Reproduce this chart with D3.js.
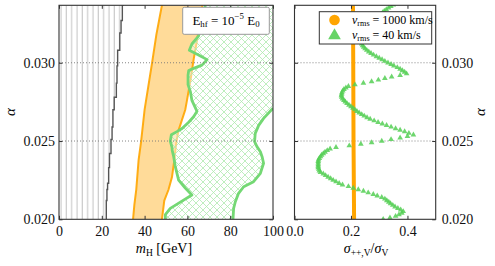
<!DOCTYPE html>
<html lang="en">
<head>
<meta charset="utf-8">
<title>alpha scan</title>
<script src="https://cdn.jsdelivr.net/npm/d3@7"></script>
<style>
  body { margin: 0; background: #fff; }
  svg { font-family: "Liberation Serif", "DejaVu Serif", serif; }
</style>
</head>
<body>
<script>
// ---- data ----
var mTicks = [0, 20, 40, 60, 80, 100];
var sigmaTicks = [0.0, 0.2, 0.4];
var alphaTicks = [0.020, 0.025, 0.030];
var alphaGrid = [0.025, 0.030];

// grey excluded region edge [mH, alpha]
var greyEdge = [[22.1,0.0200],[22.4,0.0212],[22.7,0.0219],[23.2,0.0223],[23.6,0.0233],[24.3,0.0242],
    [24.8,0.0251],[25.2,0.0259],[25.8,0.0270],[26.8,0.0278],[27.1,0.0287],[27.4,0.0298],
    [28.4,0.0308],[29.0,0.0319],[29.6,0.0327],[30.2,0.03367]];

// orange band (v_rms = 1000 km/s)
var orangeLow = [[34.6,0.0200],[35.2,0.0209],[36.1,0.0219],[37.2,0.0238],[38.3,0.0249],[40.0,0.0270],
    [43.5,0.0300],[45.5,0.0318],[48.1,0.03367]];
var orangeHigh = [[48.1,0.0200],[49.2,0.0212],[51.2,0.0219],[52.8,0.0227],[53.9,0.0238],[54.8,0.0249],
    [55.9,0.0257],[59.0,0.0270],[59.8,0.0276],[61.7,0.0291],[62.9,0.0302],[64.2,0.0312],
    [66.0,0.0327],[67.0,0.03367]];

// green region (v_rms = 40 km/s): left edge bottom->top, right edge top->bottom
var greenLow = [[49.7,0.0200],[49.7,0.0203],[52.0,0.0207],[56.7,0.0211],[62.1,0.02155],[59.0,0.0220],
    [55.9,0.0225],[54.3,0.0234],[53.6,0.0240],[52.9,0.0244],[52.8,0.0246],[52.0,0.0250],
    [52.5,0.0254],[55.1,0.0256],[57.5,0.0258],[60.6,0.0262],[62.9,0.02655],[64.5,0.0269],
    [62.1,0.0276],[61.4,0.02815],[60.3,0.0286],[60.3,0.0292],[60.6,0.0295],[62.9,0.02964],
    [66.8,0.02985],[69.2,0.0302],[65.2,0.0305],[60.9,0.0308],[62.1,0.0312],[65.2,0.0317],
    [68.4,0.03367]];
var greenHigh = [[100,0.0271],[95.6,0.02645],[93.3,0.0260],[91.7,0.02549],[91.4,0.02496],[92.5,0.02464],
    [94.1,0.02432],[94.9,0.0240],[95.6,0.02358],[94.1,0.02294],[90.9,0.0224],[86.3,0.02208],
    [83.9,0.02166],[82.4,0.02112],[81.6,0.0207],[81.3,0.0200]];

// right panel: [alpha, sigma_{++,V}/sigma_V]
var fastDots = [[0.0200,0.211],[0.0250,0.209],[0.0300,0.208],[0.03367,0.207]];
var slowDots = [
    [0.0200,0.314],[0.0201,0.338],[0.0202,0.358],[0.0203,0.370],[0.0204,0.380],[0.0205,0.385],
    [0.0206,0.376],[0.0207,0.366],[0.0208,0.356],[0.0209,0.348],[0.0210,0.340],[0.0211,0.334],
    [0.0212,0.327],[0.0213,0.320],[0.0214,0.309],[0.0215,0.293],[0.0216,0.279],[0.0217,0.261],
    [0.0218,0.244],[0.0219,0.226],[0.0220,0.208],[0.0221,0.191],[0.0222,0.170],[0.0223,0.158],
    [0.0224,0.147],[0.0225,0.137],[0.0226,0.128],[0.0227,0.119],[0.0228,0.110],[0.0229,0.102],
    [0.0230,0.092],[0.0231,0.088],[0.0232,0.086],[0.0233,0.084],[0.0234,0.084],[0.0235,0.084],
    [0.0236,0.084],[0.0237,0.084],[0.0238,0.085],[0.0239,0.088],[0.0240,0.092],[0.0241,0.096],
    [0.0242,0.102],[0.0243,0.108],[0.0244,0.116],[0.0245,0.126],[0.0246,0.147],[0.0247,0.194],
    [0.0248,0.235],[0.0249,0.273],[0.0250,0.309],[0.0251,0.342],[0.0252,0.374],[0.0253,0.400],
    [0.0254,0.421],[0.0255,0.405],[0.0256,0.390],[0.0257,0.374],[0.0258,0.358],[0.0259,0.342],
    [0.0260,0.326],[0.0261,0.311],[0.0262,0.296],[0.0263,0.282],[0.0264,0.268],[0.0265,0.257],
    [0.0266,0.247],[0.0267,0.238],[0.0268,0.229],[0.0269,0.221],[0.0270,0.214],[0.0271,0.207],
    [0.0272,0.200],[0.0273,0.193],[0.0274,0.186],[0.0275,0.180],[0.0276,0.175],[0.0277,0.170],
    [0.0278,0.167],[0.0279,0.166],[0.0280,0.167],[0.0281,0.168],[0.0282,0.171],[0.0283,0.175],
    [0.0284,0.182],[0.0285,0.191],[0.0286,0.214],[0.0287,0.244],[0.0288,0.273],[0.0289,0.297],
    [0.0290,0.320],[0.0291,0.344],[0.0292,0.374],[0.0293,0.397],[0.0294,0.390],[0.0295,0.382],
    [0.0296,0.374],[0.0297,0.364],[0.0298,0.352],[0.0299,0.342],[0.0300,0.331],[0.0301,0.320],
    [0.0302,0.310],[0.0303,0.300],[0.0304,0.290],[0.0305,0.280],[0.0306,0.271],[0.0307,0.263],
    [0.0308,0.256],[0.0309,0.250],[0.0310,0.245],[0.0311,0.241],[0.0312,0.238],[0.0313,0.237],
    [0.0314,0.238],[0.0315,0.239],[0.0316,0.241],[0.0317,0.244],[0.0318,0.248],[0.0319,0.252],
    [0.0320,0.256],[0.0321,0.260],[0.0322,0.265],[0.0323,0.269],[0.0324,0.274],[0.0325,0.278],
    [0.0326,0.283],[0.0327,0.287],[0.0328,0.292],[0.0329,0.296],[0.0330,0.301],[0.0331,0.307],
    [0.0332,0.312],[0.0333,0.318],[0.0334,0.325],[0.0335,0.333],[0.0336,0.341],[0.0337,0.350]];

// ---- layout ----
var W = 495, H = 266, FS = 14;
var SERIF = '"Liberation Serif", "DejaVu Serif", serif';
var ORANGE = '#ffa500', GREEN = '#74d874';

var svg = d3.select('body').append('svg').attr('width', W).attr('height', H)
    .attr('font-family', SERIF);
var defs = svg.append('defs');

var y = d3.scaleLinear().domain([0.020, 0.03367]).range([219.3, 5.3]);
var xL = d3.scaleLinear().domain([0, 100]).range([59, 273]);
var xR = d3.scaleLinear().domain([0, 0.5]).range([294.5, 435.7]);

defs.append('clipPath').attr('id', 'clipL').append('rect')
    .attr('x', 59).attr('y', 5.3).attr('width', 214).attr('height', 214);
defs.append('clipPath').attr('id', 'clipR').append('rect')
    .attr('x', 294.5).attr('y', 5.3).attr('width', 141.2).attr('height', 214);

var vhatch = defs.append('pattern').attr('id', 'vhatch').attr('patternUnits', 'userSpaceOnUse')
    .attr('x', 59).attr('width', 5.33).attr('height', 10);
vhatch.append('line').attr('x1', 2).attr('x2', 2).attr('y1', 0).attr('y2', 10)
    .attr('stroke', '#c2c2c2').attr('stroke-width', 1);

var xhatch = defs.append('pattern').attr('id', 'xhatch').attr('patternUnits', 'userSpaceOnUse')
    .attr('width', 7).attr('height', 7);
xhatch.append('path').attr('d', 'M0,0L7,7M0,7L7,0M-1,1L1,-1M6,8L8,6M-1,6L1,8M6,-1L8,1')
    .attr('stroke', '#aeeaae').attr('stroke-width', 0.8).attr('fill', 'none');

function rich(text, parts, size) {
    var shift = 0;
    parts.forEach(function (p) {
        var target = p.sub ? 0.22 * size : (p.sup ? -0.4 * size : 0);
        var ts = text.append('tspan').text(p.t).attr('dy', target - shift);
        shift = target;
        if (p.sub || p.sup) ts.attr('font-size', 0.68 * size);
        if (p.it) ts.attr('font-style', 'italic');
    });
}

// ================= left panel =================
var lineL = d3.line().x(function (d) { return xL(d[0]); }).y(function (d) { return y(d[1]); });
var stepL = d3.line().curve(d3.curveStepBefore)
    .x(function (d) { return xL(d[0]); }).y(function (d) { return y(d[1]); });
var left = svg.append('g').attr('clip-path', 'url(#clipL)');

// grey region
var greyPoly = [[0, 0.020]].concat(greyEdge, [[0, 0.03367]]);
left.append('path').attr('d', stepL(greyPoly)).attr('fill', 'url(#vhatch)').attr('stroke', 'none');
left.append('path').attr('d', stepL(greyEdge))
    .attr('fill', 'none').attr('stroke', '#555').attr('stroke-width', 1.4);

// orange band
left.append('path').attr('d', lineL(orangeLow.concat(orangeHigh.slice().reverse())))
    .attr('fill', ORANGE).attr('fill-opacity', 0.4).attr('stroke', 'none');
[orangeLow, orangeHigh].forEach(function (e) {
    left.append('path').attr('d', lineL(e)).attr('fill', 'none')
        .attr('stroke', ORANGE).attr('stroke-width', 2).attr('stroke-opacity', 0.9);
});

// green region
var greenPoly = greenLow.concat([[100, 0.03367]], greenHigh);
left.append('path').attr('d', lineL(greenPoly)).attr('fill', '#fff').attr('fill-opacity', 0.45);
left.append('path').attr('d', lineL(greenPoly)).attr('fill', 'url(#xhatch)');
[greenLow, greenHigh].forEach(function (e) {
    left.append('path').attr('d', lineL(e)).attr('fill', 'none')
        .attr('stroke', GREEN).attr('stroke-width', 2.8).attr('stroke-linejoin', 'round');
});

// grid
left.selectAll('.grid').data(alphaGrid).enter().append('line')
    .attr('x1', 59).attr('x2', 273).attr('y1', y).attr('y2', y)
    .attr('stroke', '#777').attr('stroke-width', 0.9).attr('stroke-dasharray', '1,2');

// ================= right panel =================
var right = svg.append('g').attr('clip-path', 'url(#clipR)');
right.selectAll('.grid').data(alphaGrid).enter().append('line')
    .attr('x1', 294.5).attr('x2', 435.7).attr('y1', y).attr('y2', y)
    .attr('stroke', '#777').attr('stroke-width', 0.9).attr('stroke-dasharray', '1,2');

var lineR = d3.line().x(function (d) { return xR(d[1]); }).y(function (d) { return y(d[0]); });
right.append('path').attr('d', lineR(fastDots)).attr('fill', 'none')
    .attr('stroke', ORANGE).attr('stroke-width', 4);

var tri = d3.symbol().type(d3.symbolTriangle).size(14);
right.selectAll('.slow').data(slowDots).enter().append('path')
    .attr('d', tri)
    .attr('transform', function (d) { return 'translate(' + xR(d[1]) + ',' + y(d[0]) + ')'; })
    .attr('fill', '#55cf55').attr('fill-opacity', 0.85);

// ================= axes & frames =================
function styleAxis(g) {
    g.attr('font-family', SERIF).attr('font-size', FS);
    g.select('.domain').remove();
    g.selectAll('line').attr('stroke', '#333');
    g.selectAll('text').attr('fill', '#111');
}
svg.append('g').attr('transform', 'translate(0,219.3)')
    .call(d3.axisBottom(xL).tickValues(mTicks).tickFormat(d3.format('d')).tickSize(-3.5).tickPadding(7)).call(styleAxis);
svg.append('g').attr('transform', 'translate(0,5.3)')
    .call(d3.axisTop(xL).tickValues(mTicks).tickFormat('').tickSize(-3.5)).call(styleAxis);
svg.append('g').attr('transform', 'translate(59,0)')
    .call(d3.axisLeft(y).tickValues(alphaTicks).tickFormat(d3.format('.3f')).tickSize(-3.5).tickPadding(4)).call(styleAxis);
svg.append('g').attr('transform', 'translate(273,0)')
    .call(d3.axisRight(y).tickValues(alphaTicks).tickFormat('').tickSize(-3.5)).call(styleAxis);

svg.append('g').attr('transform', 'translate(0,219.3)')
    .call(d3.axisBottom(xR).tickValues(sigmaTicks).tickFormat(d3.format('.1f')).tickSize(-3.5).tickPadding(7)).call(styleAxis);
svg.append('g').attr('transform', 'translate(0,5.3)')
    .call(d3.axisTop(xR).tickValues(sigmaTicks).tickFormat('').tickSize(-3.5)).call(styleAxis);
svg.append('g').attr('transform', 'translate(435.7,0)')
    .call(d3.axisRight(y).tickValues(alphaTicks).tickFormat(d3.format('.3f')).tickSize(-3.5).tickPadding(6)).call(styleAxis);
svg.append('g').attr('transform', 'translate(294.5,0)')
    .call(d3.axisLeft(y).tickValues(alphaTicks).tickFormat('').tickSize(-3.5)).call(styleAxis);

svg.append('rect').attr('x', 59).attr('y', 5.3).attr('width', 214).attr('height', 214)
    .attr('fill', 'none').attr('stroke', '#333').attr('stroke-width', 1.1);
svg.append('rect').attr('x', 294.5).attr('y', 5.3).attr('width', 141.2).attr('height', 214)
    .attr('fill', 'none').attr('stroke', '#333').attr('stroke-width', 1.1);

// axis labels
rich(svg.append('text').attr('x', 164).attr('y', 253).attr('text-anchor', 'middle').attr('font-size', FS),
    [{t: 'm', it: 1}, {t: 'H', sub: 1}, {t: ' [GeV]'}], FS);
rich(svg.append('text').attr('x', 366).attr('y', 253).attr('text-anchor', 'middle').attr('font-size', FS),
    [{t: 'σ', it: 1}, {t: '++,V', sub: 1}, {t: '/'}, {t: 'σ', it: 1}, {t: 'V', sub: 1}], FS);
svg.append('text').attr('transform', 'translate(15,112) rotate(-90)').attr('text-anchor', 'middle')
    .attr('font-size', FS + 1).attr('font-style', 'italic').text('α');
svg.append('text').attr('transform', 'translate(485,112) rotate(-90)').attr('text-anchor', 'middle')
    .attr('font-size', FS + 1).attr('font-style', 'italic').text('α');

// ================= legends =================
svg.append('rect').attr('x', 182.7).attr('y', 7.3).attr('width', 86.6).attr('height', 27)
    .attr('rx', 1.5).attr('fill', '#fff').attr('stroke', '#999').attr('stroke-width', 1);
rich(svg.append('text').attr('x', 226).attr('y', 24.5).attr('text-anchor', 'middle').attr('font-size', FS - 1),
    [{t: 'E'}, {t: 'hf', sub: 1}, {t: ' = 10'}, {t: '−5', sup: 1}, {t: ' E'}, {t: '0', sub: 1}], FS - 1);

svg.append('rect').attr('x', 319.3).attr('y', 11.7).attr('width', 112.4).attr('height', 32.3)
    .attr('fill', '#fff').attr('stroke', '#333').attr('stroke-width', 1);
svg.append('circle').attr('cx', 334.5).attr('cy', 20).attr('r', 5.3).attr('fill', ORANGE);
svg.append('path').attr('d', d3.symbol().type(d3.symbolTriangle).size(70)())
    .attr('transform', 'translate(334.5,35.5)').attr('fill', '#66d466');
var legRows = [{y: 23.5, v: '1000'}, {y: 38.5, v: '40'}];
legRows.forEach(function (r) {
    rich(svg.append('text').attr('x', 352).attr('y', r.y).attr('font-size', 12),
        [{t: 'v', it: 1}, {t: 'rms', sub: 1}, {t: ' = ' + r.v + ' km/s'}], 12);
});
</script>
</body>
</html>
